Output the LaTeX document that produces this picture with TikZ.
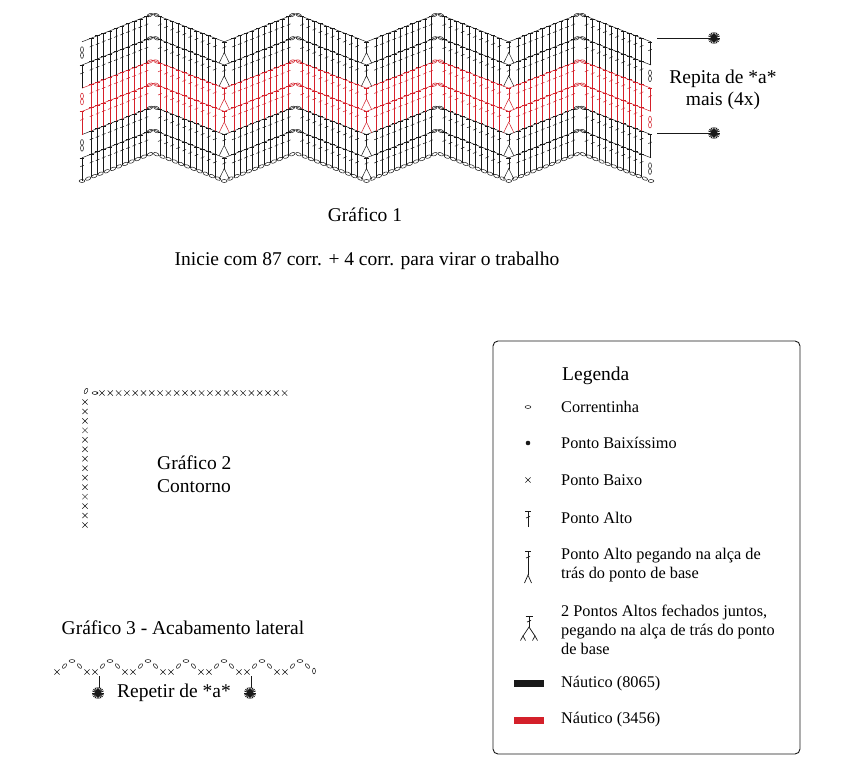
\documentclass[tikz,border=0pt]{standalone}
\usepackage{fontspec}
\setmainfont{Liberation Serif}
\definecolor{preto}{RGB}{25,25,25}
\definecolor{vermelho}{RGB}{212,32,42}
\def\pontoalto[#1](#2,#3){\draw[ponto,#1] (#2,#3) -- ++(0,-23.2) ++(-2.3,0) -- ++(4.6,0); \draw[ponto,#1] ({#2-1.8},{#3-14.2}) -- ++(3.6,-1.6);}
\def\fechados[#1](#2,#3){\draw[ponto,#1] ({#2-5.2},{#3-1.8}) -- (#2,{#3-12.5}) -- ({#2+5.2},{#3-1.8}); \draw[ponto,#1] (#2,{#3-12.5}) -- (#2,{#3-23.2}) ++(-2.3,0) -- ++(4.6,0); \draw[ponto,#1] ({#2-1.8},{#3-16.8}) -- ++(3.6,-1.6);}
\def\corr[#1](#2,#3)#4{\draw[ponto,#1,shift={(#2,#3)},rotate=#4] (0,0) ellipse (2.9pt and 1.5pt);}
\def\baixo(#1,#2){\draw[ponto] ({#1-2.6},{#2-2.6}) -- ({#1+2.6},{#2+2.6}) ({#1-2.6},{#2+2.6}) -- ({#1+2.6},{#2-2.6});}
\def\estrela(#1,#2){\fill[preto] (#1,#2) circle (3.4pt); \foreach \a in {0,20,...,340} \draw[preto,line width=0.9pt] (#1,#2) -- ++(\a:6pt);}
\tikzset{
  ponto/.style={line width=0.5pt, color=preto},
  titulo/.style={font=\fontsize{19.5}{22.5}\selectfont, inner sep=0pt, align=center},
  legenda/.style={font=\fontsize{16.3}{19}\selectfont, inner sep=0pt, anchor=west, align=left},
}

\begin{document}
\begin{tikzpicture}[x=1pt,y=-1pt]
			\fill[white] (0,0) rectangle (865,774);
			
			%%%%% GRAFICO 1 %%%%%
			
			% correntinhas de base
			\foreach \per in {0,...,3}
			\foreach \m in {0,...,22}{
				\pgfmathsetmacro\dd{6.185*\m}
				\pgfmathsetmacro\tri{min(\dd,142.25-\dd)}
				\pgfmathsetmacro\ang{\m==0 ? 0 : (\dd<71.125 ? 21.5 : -21.5)}
				\pgfmathsetmacro\x{82+142.25*\per+\dd}
				\pgfmathsetmacro\y{181-28*\tri/71.125}
				\corr[preto](\x,\y){\ang}
			}
			\corr[preto](651,181){0}
			
			% carreiras
			\foreach \lin/\cor in {1/preto,2/preto,3/vermelho,4/vermelho,5/preto,6/preto}{
				\pgfmathsetmacro\yb{181-23.2*(\lin-1)}
				\pgfmathsetmacro\yt{\yb-23.2}
				\draw[ponto,\cor] (82,\yt) \foreach \per in {0,...,3}{ -- ({153.125+142.25*\per},{\yt-28}) -- ({224.25+142.25*\per},\yt)};
				\foreach \per in {0,...,3}{
					\pgfmathsetmacro\xv{82+142.25*\per}
					\foreach \pos in {0,...,9}{
						\pgfmathsetmacro\dd{9.5+6.1*\pos}
						\pgfmathsetmacro\yy{\yb-28*\dd/71.125}
						\pgfmathsetmacro\xa{\xv+\dd}
						\pgfmathsetmacro\xb{\xv+142.25-\dd}
						\pontoalto[\cor](\xa,\yy)
						\pontoalto[\cor](\xb,\yy)
					}
					\pgfmathsetmacro\xpa{\xv+71.125-3.3}
					\pgfmathsetmacro\xpb{\xv+71.125+3.3}
					\pgfmathsetmacro\yp{\yt-28+1.3}
					\corr[\cor](\xpa,\yp){21.5}
					\corr[\cor](\xpb,\yp){-21.5}
					\ifnum\per>0 \fechados[\cor](\xv,\yb)\fi
				}
			}
			
			% coluna esquerda
			\pontoalto[preto](82,181)
			\corr[preto](82,148.3){90} \corr[preto](82,142.4){90}
			\pontoalto[vermelho](82,134.6)
			\corr[vermelho](82,101.9){90} \corr[vermelho](82,96){90}
			\pontoalto[preto](82,88.2)
			\corr[preto](82,55.5){90} \corr[preto](82,49.6){90}
			
			% coluna direita
			\corr[preto](650,171.5){90} \corr[preto](650,165.6){90}
			\pontoalto[preto](650,157.8)
			\corr[vermelho](650,125.1){90} \corr[vermelho](650,119.2){90}
			\pontoalto[vermelho](650,111.4)
			\corr[preto](650,78.7){90} \corr[preto](650,72.8){90}
			\pontoalto[preto](650,65)
			
			% repeticao
			\coordinate (rep1a) at (657,38);
			\coordinate (rep1b) at (714,38);
			\coordinate (rep2a) at (657,133);
			\coordinate (rep2b) at (714,133);
			\draw[line width=0.6pt, color=preto] (rep1a) -- (rep1b);
			\draw[line width=0.6pt, color=preto] (rep2a) -- (rep2b);
			\estrela(714,38)
			\estrela(714,133)
			\node[titulo] (repita) at (723,90) {Repita de *a*\\mais (4x)};
			
			\node[titulo] (grafico1) at (365,215) {Gráfico 1};
			\node[titulo] (inicie) at (367,261) {Inicie com 87 corr. + 4 corr. para virar o trabalho};
			
			%%%%% GRAFICO 2 %%%%%
			
			\foreach \i in {0,...,22}{\pgfmathsetmacro\x{102+8.3*\i} \baixo(\x,393)}
			\foreach \i in {0,...,13}{\pgfmathsetmacro\y{402+9.46*\i} \baixo(85,\y)}
			\corr[preto](86,391){65}
			\corr[preto](95,393){0}
			\fill[preto] (97.3,393) circle (1.1pt);
			\node[titulo, anchor=west, align=left] (grafico2) at (157,474) {Gráfico 2\\Contorno};
			
			%%%%% GRAFICO 3 %%%%%
			
			\node[titulo] (grafico3) at (183,628) {Gráfico 3 - Acabamento lateral};
			\baixo(57,672)
			\foreach \per in {0,...,5}{
				\pgfmathsetmacro\x{87+38*\per} \baixo(\x,672)
				\pgfmathsetmacro\x{95+38*\per} \baixo(\x,672)
			}
			\foreach \per in {0,...,6}{
				\pgfmathsetmacro\xa{64.5+38*\per}
				\pgfmathsetmacro\x{72+38*\per}
				\pgfmathsetmacro\xb{79.5+38*\per}
				\corr[preto](\xa,666){50}
				\corr[preto](\x,661){0}
				\corr[preto](\xb,666){-50}
			}
			\corr[preto](314,671){90}
			\coordinate (ini1) at (99,676);
			\coordinate (fim1) at (99,688);
			\coordinate (ini2) at (251,676);
			\coordinate (fim2) at (251,688);
			\draw[line width=0.6pt, color=preto] (ini1) -- (fim1);
			\draw[line width=0.6pt, color=preto] (ini2) -- (fim2);
			\estrela(98,693)
			\estrela(250,693)
			\node[titulo] (repetir) at (174,693) {Repetir de *a*};
			
			%%%%% LEGENDA %%%%%
			
			\draw[rounded corners=5pt, line width=0.9pt, color=preto] (493,341) rectangle (800,754);
			\node[titulo, anchor=west] (legenda) at (562,376) {Legenda};
			
			\corr[preto](528,407){0}
			\node[legenda] (correntinha) at (561,407) {Correntinha};
			
			\fill[preto] (528,443) circle (2.3pt);
			\node[legenda] (baixissimo) at (561,443) {Ponto Baixíssimo};
			
			\baixo(528,480)
			\node[legenda] (baixo) at (561,480) {Ponto Baixo};
			
			\draw[ponto, line width=0.7pt] (528,527) -- (528,511) ++(-3,0) -- ++(6,0);
			\draw[ponto, line width=0.7pt] (526,518) -- ++(4,-1.6);
			\node[legenda] (alto) at (561,518) {Ponto Alto};
			
			\draw[ponto, line width=0.7pt] (528,575) -- (528,551) ++(-3,0) -- ++(6,0);
			\draw[ponto, line width=0.7pt] (526,558) -- ++(4,-1.6);
			\draw[ponto, line width=0.7pt] (524.5,583) -- (528,575) -- (531.5,583);
			\node[legenda] (alca) at (561,565) {Ponto Alto pegando na alça de\\trás do ponto de base};
			
			\draw[ponto, line width=0.7pt] (529,627) -- (529,616.5) ++(-3.5,0) -- ++(7,0);
			\draw[ponto, line width=0.7pt] (527,622) -- ++(4,-1.6);
			\draw[ponto, line width=0.7pt] (523,636) -- (529,627) -- (535,636);
			\draw[ponto, line width=0.7pt] (520.5,640.5) -- (523,636) -- (525.5,640.5);
			\draw[ponto, line width=0.7pt] (532.5,640.5) -- (535,636) -- (537.5,640.5);
			\node[legenda] (fechados) at (561,630) {2 Pontos Altos fechados juntos,\\pegando na alça de trás do ponto\\de base};
			
			\fill[preto] (514,679.5) rectangle (544,687);
			\node[legenda] (preto8065) at (561,684) {Náutico (8065)};
			
			\fill[vermelho] (514,716.5) rectangle (544,724);
			\node[legenda] (vermelho3456) at (561,720) {Náutico (3456)};
			
			%%%%% END %%%%%
\end{tikzpicture}
\end{document}
